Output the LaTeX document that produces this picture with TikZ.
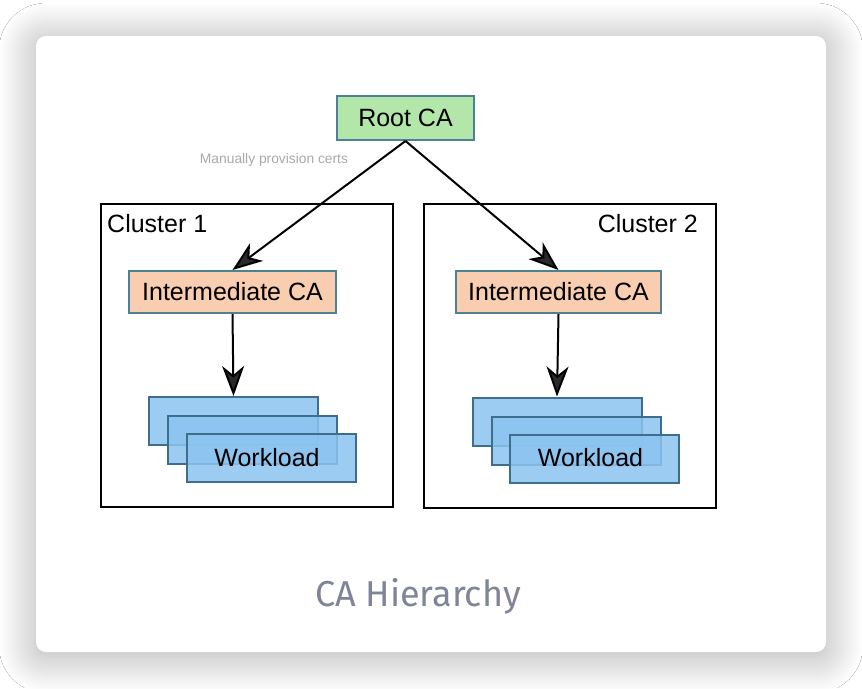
\documentclass[tikz,border=0pt]{standalone}
\usepackage{fontspec}
\setmainfont{Liberation Sans}
\newfontfamily\capfont{Fira Sans}
\usetikzlibrary{arrows.meta,shadows.blur}

\definecolor{rootgreen}{HTML}{B3E6A9}
\definecolor{intpeach}{HTML}{F8CDB0}
\definecolor{wlblue}{HTML}{8CC4F0}
\definecolor{caedge}{HTML}{4C8196}
\definecolor{wledge}{HTML}{3D6F8D}
\definecolor{notegray}{HTML}{A9A9A9}
\definecolor{capgray}{HTML}{7F8496}

\tikzset{
  ca/.style={draw=caedge, line width=2pt, inner sep=0pt, font=\fontsize{25}{30}\selectfont},
  workload/.style={draw=wledge, line width=2pt, fill=wlblue, fill opacity=0.85, text opacity=1,
    minimum width=169pt, minimum height=48pt, inner sep=0pt, font=\fontsize{25}{30}\selectfont},
  cluster/.style={draw=black, line width=2pt, inner sep=0pt},
  label/.style={inner sep=0pt, font=\fontsize{25}{30}\selectfont},
  link/.style={line width=2pt, -{Stealth[length=30pt,width=22pt,inset=9pt]}}
}

\begin{document}
\begin{tikzpicture}[x=1pt,y=-1pt]
%page and card
\fill[white] (0,0) rectangle (862,688);
\useasboundingbox (0,0) rectangle (862,688);
\fill[white, rounded corners=10pt,
  blur shadow={shadow xshift=0pt, shadow yshift=-4pt, shadow blur radius=37pt,
    shadow blur steps=40, shadow opacity=33}]
  (36,36) rectangle (826,652);

%the two clusters
\node[cluster, minimum width=292pt, minimum height=303pt] (c1) at (247,355.5) {};
\node[cluster, minimum width=292pt, minimum height=304pt] (c2) at (570,356) {};
\node[label, anchor=west] (c1name) at (107,224) {Cluster 1};
\node[label, anchor=east] (c2name) at (698,224) {Cluster 2};

%certificate authorities
\node[ca, fill=rootgreen, minimum width=137pt, minimum height=44pt] (root) at (405.5,118) {Root CA};
\node[ca, fill=intpeach, minimum width=207pt, minimum height=42pt] (int1) at (232.5,292) {Intermediate CA};
\node[ca, fill=intpeach, minimum width=205pt, minimum height=42pt] (int2) at (558.5,292) {Intermediate CA};

%workloads, back to front
\node[workload] (w1a) at (233.5,421) {};
\node[workload] (w1b) at (252.5,440) {};
\node[workload, text depth=2pt] (w1c) at (271,458) {\hspace*{-8pt}Workload};
\node[workload] (w2a) at (557,421.5) {};
\node[workload] (w2b) at (576,440.5) {};
\node[workload, text depth=2pt] (w2c) at (594.5,458.5) {\hspace*{-8pt}Workload};

%links
\draw[link] (root.south) -- (int1.north);
\draw[link] (root.south) -- (int2.north);
\draw[link] (int1.south) -- (w1a.north);
\draw[link] (int2.south) -- (w2a.north);

\node[text=notegray, inner sep=0pt, font=\fontsize{13.8}{16}\selectfont] (note) at (274,160) {Manually provision certs};

%caption
\node[text=capgray, inner sep=0pt, font=\capfont\fontsize{36}{42}\selectfont] (caption) at (418,596) {CA Hierarchy};
\end{tikzpicture}
\end{document}
